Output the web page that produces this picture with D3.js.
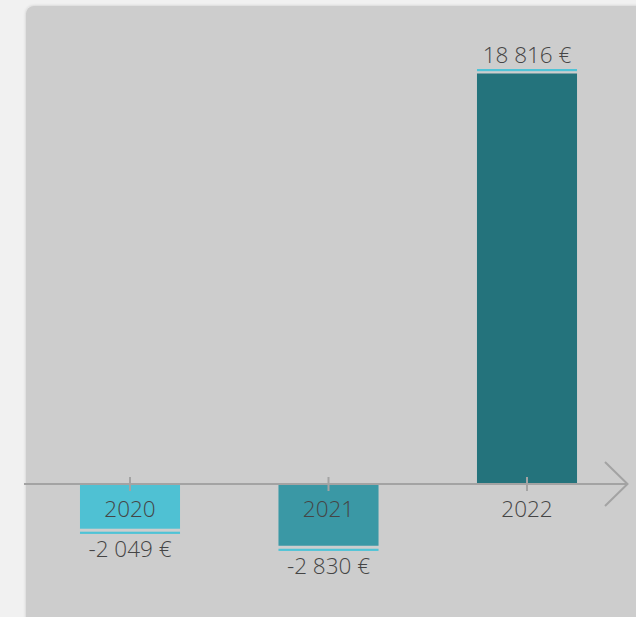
<!DOCTYPE html>
<html>
<head>
<meta charset="utf-8">
<script src="https://cdn.jsdelivr.net/npm/d3@7"></script>
<style>
html,body{margin:0;padding:0;background:#f1f1f1;overflow:hidden;}
svg{display:block;}
</style>
</head>
<body>
<script>
const years = ["2020", "2021", "2022"];
const values = [-2049, -2830, 18816];
const barColors = ["#4fc1d3", "#3a98a5", "#24737c"];

const W = 636, H = 617;
const svg = d3.select("body").append("svg").attr("width", W).attr("height", H);

const defs = svg.append("defs");
const f = defs.append("filter").attr("id", "sh").attr("x", "-5%").attr("y", "-5%").attr("width", "110%").attr("height", "110%");
f.append("feDropShadow").attr("dx", 0).attr("dy", 0).attr("stdDeviation", 1.5).attr("flood-color", "#000").attr("flood-opacity", 0.18);

svg.append("rect").attr("width", W).attr("height", H).attr("fill", "#f1f1f1");
svg.append("rect").attr("x", 26).attr("y", 6).attr("width", 640).attr("height", 640)
  .attr("rx", 8).attr("fill", "#cdcdcd").attr("filter", "url(#sh)");

const x = d3.scaleBand().domain(years).range([30.75, 626.25]).paddingInner(0.496).paddingOuter(0.248);
const y = d3.scaleLinear().domain([0, 18816]).range([484, 73.5]);

const fr = d3.formatLocale({decimal: ",", thousands: " ", grouping: [3], currency: ["", " €"], minus: "-"});
const fmt = fr.format("$,.0f");

const data = years.map((yr, i) => ({year: yr, value: values[i], color: barColors[i]}));

const fontFam = "'Open Sans', sans-serif";
const fontW = 300;
const fontS = 22.5;
const txtColor = "#454545";

const g = svg.append("g");
g.selectAll("rect.bar").data(data).join("rect").attr("class", "bar")
  .attr("x", d => x(d.year)).attr("width", x.bandwidth())
  .attr("y", d => d.value >= 0 ? y(d.value) : y(0) + 1)
  .attr("height", d => d.value >= 0 ? y(0) - 1 - y(d.value) : y(d.value) - y(0) - 1)
  .attr("fill", d => d.color);

// underline accents
g.selectAll("rect.ul").data(data).join("rect").attr("class", "ul")
  .attr("x", d => x(d.year)).attr("width", x.bandwidth())
  .attr("y", d => d.value >= 0 ? y(d.value) - 4.5 : y(d.value) + 3)
  .attr("height", 2.2).attr("fill", "#4fc3d6");

// value labels
g.selectAll("text.val").data(data).join("text").attr("class", "val")
  .attr("x", d => x(d.year) + x.bandwidth() / 2)
  .attr("y", d => d.value >= 0 ? y(d.value) - 10.5 : y(d.value) + 28)
  .attr("text-anchor", "middle")
  .attr("font-family", fontFam).attr("font-weight", fontW).attr("font-size", fontS)
  .attr("fill", txtColor)
  .text(d => fmt(d.value));

// axis
const axisColor = "#a3a3a3";
g.append("line").attr("x1", 24).attr("x2", 627).attr("y1", y(0)).attr("y2", y(0))
  .attr("stroke", axisColor).attr("stroke-width", 2);
g.append("path").attr("d", `M605,${y(0) - 22}L627.5,${y(0)}L605,${y(0) + 22}`)
  .attr("fill", "none").attr("stroke", axisColor).attr("stroke-width", 2);

const axis = d3.axisBottom(x).tickSizeInner(0).tickSizeOuter(0).tickPadding(0);
const ax = g.append("g").attr("transform", `translate(0,${y(0)})`).call(axis);
ax.select(".domain").remove();
ax.selectAll(".tick line").attr("y1", -7).attr("y2", 7).attr("stroke", axisColor).attr("stroke-width", 2);
ax.selectAll(".tick text").attr("y", 33).attr("dy", 0)
  .attr("font-family", fontFam).attr("font-weight", fontW).attr("font-size", fontS).attr("fill", txtColor);
</script>
</body>
</html>
